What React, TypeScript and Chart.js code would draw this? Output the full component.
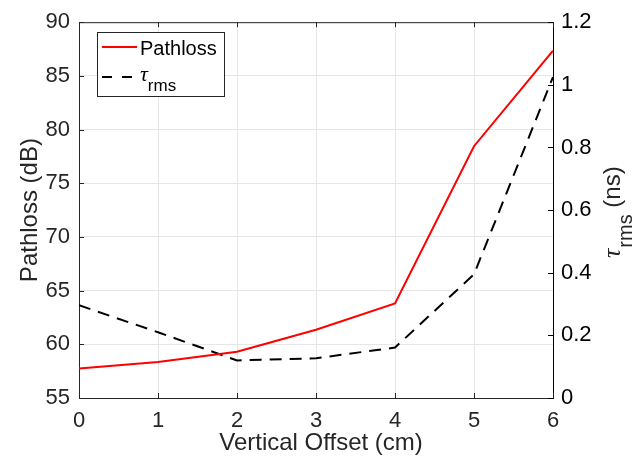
import React, { useEffect, useRef } from "react";
import { Chart, registerables } from "chart.js";

Chart.register(...registerables);

// ---- data ----
const offsetsCm = [0, 1, 2, 3, 4, 5, 6];
const pathlossDb = [57.75, 58.35, 59.3, 61.35, 63.8, 78.45, 87.35];
const tauRmsNs = [0.296, 0.21, 0.12, 0.127, 0.161, 0.395, 1.025];

const xLabel = "Vertical Offset (cm)";
const yLeftLabel = "Pathloss (dB)";
const seriesNames = ["Pathloss", "τ"];

const FONT = "'Liberation Sans', Arial, Helvetica, sans-serif";
const TAU_FONT = "'Liberation Serif', 'Times New Roman', serif";
const AXIS_COLOR = "#262626";
const GRID_COLOR = "#e6e6e6";

const decor = {
  id: "matlabDecor",
  afterDraw(chart: any) {
    const ctx = chart.ctx as CanvasRenderingContext2D;
    const { left, right, top, bottom } = chart.chartArea;
    const sx = chart.scales.x;
    const sy = chart.scales.y;
    const sy1 = chart.scales.y1;
    ctx.save();
    // top box line
    ctx.strokeStyle = AXIS_COLOR;
    ctx.lineWidth = 1;
    ctx.beginPath();
    ctx.moveTo(left, top + 0.5);
    ctx.lineTo(right, top + 0.5);
    ctx.stroke();
    // inward ticks
    const tl = 5;
    ctx.beginPath();
    sx.ticks.forEach((t: any) => {
      const px = Math.round(sx.getPixelForValue(t.value)) + 0.5;
      ctx.moveTo(px, bottom);
      ctx.lineTo(px, bottom - tl);
      ctx.moveTo(px, top);
      ctx.lineTo(px, top + tl);
    });
    sy.ticks.forEach((t: any) => {
      const py = Math.round(sy.getPixelForValue(t.value)) + 0.5;
      ctx.moveTo(left, py);
      ctx.lineTo(left + tl, py);
    });
    ctx.stroke();
    ctx.strokeStyle = "#000";
    ctx.beginPath();
    sy1.ticks.forEach((t: any) => {
      const py = Math.round(sy1.getPixelForValue(t.value)) + 0.5;
      ctx.moveTo(right, py);
      ctx.lineTo(right - tl, py);
    });
    ctx.stroke();

    // axis titles
    ctx.fillStyle = AXIS_COLOR;
    ctx.font = `24px ${FONT}`;
    ctx.textAlign = "center";
    ctx.textBaseline = "alphabetic";
    ctx.fillText(xLabel, (left + right) / 2 + 5, 450);

    ctx.save();
    ctx.translate(37, (top + bottom) / 2);
    ctx.rotate(-Math.PI / 2);
    ctx.fillText(yLeftLabel, 0, 0);
    ctx.restore();

    // right title: τ_rms (ns)
    ctx.save();
    ctx.translate(620, 258);
    ctx.rotate(-Math.PI / 2);
    ctx.textAlign = "left";
    ctx.font = `italic 26px ${TAU_FONT}`;
    ctx.fillText("τ", 0, 0);
    let u = ctx.measureText("τ").width + 1;
    ctx.font = `20px ${FONT}`;
    ctx.fillText("rms", u, 12);
    u += ctx.measureText("rms").width;
    ctx.font = `24px ${FONT}`;
    ctx.fillText(" (ns)", u, 0);
    ctx.restore();

    // legend
    const lx = 97, ly = 32, lw = 127, lh = 64;
    ctx.fillStyle = "#fff";
    ctx.fillRect(lx, ly, lw, lh);
    ctx.strokeStyle = AXIS_COLOR;
    ctx.lineWidth = 1;
    ctx.strokeRect(lx + 0.5, ly + 0.5, lw, lh);

    ctx.lineWidth = 2;
    ctx.strokeStyle = "#ff0000";
    ctx.beginPath();
    ctx.moveTo(102, 47);
    ctx.lineTo(137, 47);
    ctx.stroke();
    ctx.strokeStyle = "#000";
    ctx.setLineDash([10, 10]);
    ctx.beginPath();
    ctx.moveTo(102, 77);
    ctx.lineTo(137, 77);
    ctx.stroke();
    ctx.setLineDash([]);

    ctx.fillStyle = "#000";
    ctx.textAlign = "left";
    ctx.font = `20px ${FONT}`;
    ctx.fillText(seriesNames[0], 140, 55);
    ctx.font = `italic 22px ${TAU_FONT}`;
    ctx.fillText(seriesNames[1], 140, 81);
    const tw = ctx.measureText(seriesNames[1]).width;
    ctx.font = `17px ${FONT}`;
    ctx.fillText("rms", 140 + tw, 91);

    ctx.restore();
  },
};

export default function App() {
  const ref = useRef<HTMLCanvasElement | null>(null);
  useEffect(() => {
    if (!ref.current) return;
    const tickFont = { family: FONT, size: 22 };
    const chart = new Chart(ref.current, {
      type: "line",
      data: {
        datasets: [
          {
            label: "Pathloss",
            data: offsetsCm.map((x, i) => ({ x, y: pathlossDb[i] })),
            borderColor: "#ff0000",
            borderWidth: 2,
            pointRadius: 0,
            tension: 0,
            yAxisID: "y",
          },
          {
            label: "τrms",
            data: offsetsCm.map((x, i) => ({ x, y: tauRmsNs[i] })),
            borderColor: "#000000",
            borderWidth: 2,
            borderDash: [12, 8],
            pointRadius: 0,
            tension: 0,
            yAxisID: "y1",
          },
        ],
      },
      options: {
        animation: false,
        responsive: false,
        devicePixelRatio: 1,
        layout: { padding: { top: 18, left: 0, right: 0, bottom: 0 } },
        plugins: { legend: { display: false }, tooltip: { enabled: false } },
        scales: {
          x: {
            type: "linear",
            min: 0,
            max: 6,
            ticks: { stepSize: 1, font: tickFont, color: AXIS_COLOR, padding: 10 },
            grid: { color: GRID_COLOR, drawTicks: false },
            border: { color: AXIS_COLOR, width: 1 },
            afterFit: (s: any) => {
              s.height = 65;
            },
          },
          y: {
            type: "linear",
            position: "left",
            min: 55,
            max: 90,
            ticks: { stepSize: 5, font: tickFont, color: AXIS_COLOR, padding: 9 },
            grid: { color: GRID_COLOR, drawTicks: false },
            border: { color: AXIS_COLOR, width: 1 },
            afterFit: (s: any) => {
              s.width = 79;
            },
          },
          y1: {
            type: "linear",
            position: "right",
            min: 0,
            max: 1.2,
            ticks: {
              stepSize: 0.2,
              font: tickFont,
              color: "#000",
              padding: 8,
              callback: (v: any) => String(Math.round(Number(v) * 10) / 10),
            },
            grid: { drawOnChartArea: false, drawTicks: false },
            border: { color: "#000", width: 1 },
            afterFit: (s: any) => {
              s.width = 90;
            },
          },
        },
      },
      plugins: [decor],
    });
    return () => chart.destroy();
  }, []);
  return (
    <div style={{ position: "fixed", left: 0, top: 0, width: 643, height: 463, background: "#fff" }}>
      <canvas ref={ref} width={643} height={463} />
    </div>
  );
}
